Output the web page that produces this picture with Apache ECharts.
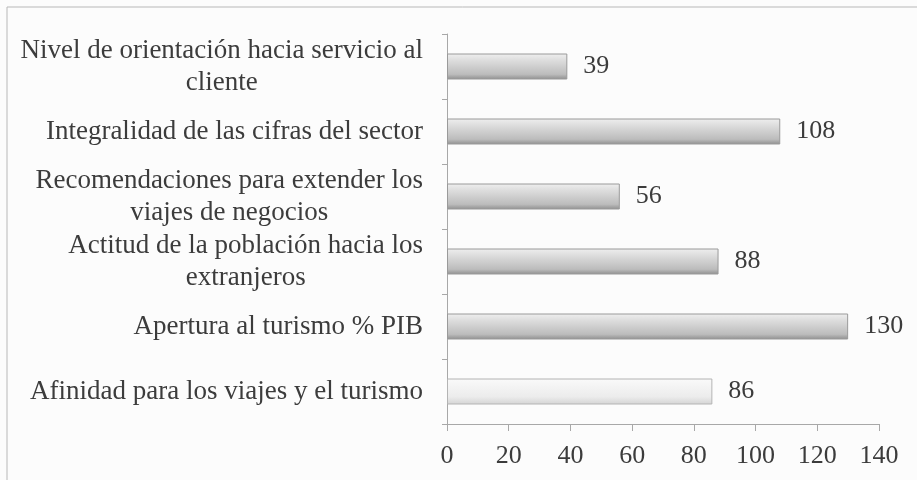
<!DOCTYPE html>
<html>
<head>
<meta charset="utf-8">
<script src="https://cdn.jsdelivr.net/npm/echarts@6/dist/echarts.min.js"></script>
<style>
  html, body { margin: 0; padding: 0; background: #fcfcfc; }
  #chart { width: 917px; height: 480px; }
</style>
</head>
<body>
<div id="chart"></div>
<script>
// categories top to bottom
const categories = [
  "Nivel de orientación hacia servicio al\ncliente",
  "Integralidad de las cifras del sector",
  "Recomendaciones para extender los\nviajes de negocios",
  "Actitud de la población hacia los\nextranjeros",
  "Apertura al turismo % PIB",
  "Afinidad para los viajes y el turismo"
];
const values = [39, 108, 56, 88, 130, 86];
const axisMax = 140;
const axisStep = 20;

const font = "'Liberation Serif', 'DejaVu Serif', serif";
const fontSize = 26;
const catFontSize = 27;
const textColor = "#3c3c3c";

const greyBar = {
  type: "linear", x: 0, y: 0, x2: 0, y2: 1,
  colorStops: [
    { offset: 0, color: "#efefef" },
    { offset: 0.25, color: "#dedede" },
    { offset: 0.8, color: "#bcbcbc" },
    { offset: 1, color: "#8e8e8e" }
  ]
};
const lightBar = {
  type: "linear", x: 0, y: 0, x2: 0, y2: 1,
  colorStops: [
    { offset: 0, color: "#fafafa" },
    { offset: 0.7, color: "#ececec" },
    { offset: 1, color: "#d4d4d4" }
  ]
};

const barData = values.map((v, i) => ({
  value: v,
  itemStyle: {
    color: i === values.length - 1 ? lightBar : greyBar,
    borderColor: i === values.length - 1 ? "#b4b4b4" : "#9a9a9a",
    borderWidth: 1
  }
}));

// wrapped labels: lines centred on each other, block right-aligned to axis
const rich = {
  c: {
    align: "center",
    fontFamily: font,
    fontSize: catFontSize,
    lineHeight: 32,
    color: textColor
  }
};

const chart = echarts.init(document.getElementById("chart"));
chart.setOption({
  backgroundColor: "#fcfcfc",
  animation: false,
  graphic: [
    {
      type: "rect",
      shape: { x: 7, y: 7, width: 930, height: 500 },
      style: { fill: "none", stroke: "#b8b8b8", lineWidth: 1 },
      silent: true
    }
  ],
  grid: { left: 447, right: 38, top: 34, bottom: 56 },
  xAxis: {
    type: "value",
    min: 0,
    max: axisMax,
    interval: axisStep,
    splitLine: { show: false },
    axisLine: { show: true, lineStyle: { color: "#a8a8a8", width: 1 } },
    axisTick: { show: true, length: 7, lineStyle: { color: "#a8a8a8" } },
    axisLabel: {
      margin: 19,
      fontFamily: font,
      fontSize: fontSize,
      color: textColor
    }
  },
  yAxis: {
    type: "category",
    inverse: true,
    data: categories,
    axisLine: { show: true, lineStyle: { color: "#a8a8a8", width: 1 } },
    axisTick: { show: true, length: 5, lineStyle: { color: "#a8a8a8" } },
    axisLabel: {
      margin: 24,
      fontFamily: font,
      fontSize: catFontSize,
      color: textColor,
      formatter: (val) => val.split("\n").map((l) => "{c|" + l + "}").join("\n"),
      rich: rich
    }
  },
  series: [
    {
      type: "bar",
      data: barData,
      barWidth: 26,
      label: {
        show: true,
        position: "right",
        distance: 16,
        fontFamily: font,
        fontSize: fontSize,
        color: textColor
      }
    }
  ]
});
</script>
</body>
</html>
